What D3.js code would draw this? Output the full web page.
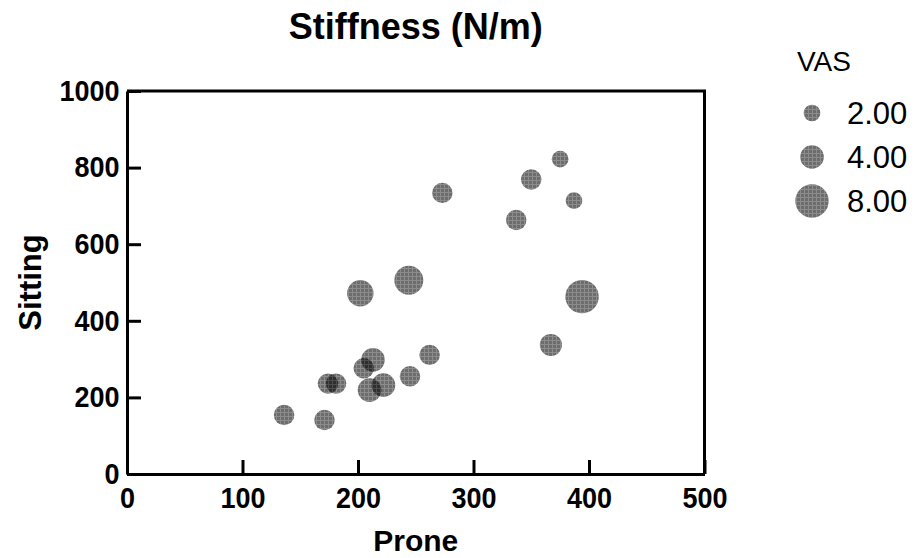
<!DOCTYPE html>
<html>
<head>
<meta charset="utf-8">
<script src="https://cdn.jsdelivr.net/npm/d3@7"></script>
<style>
  body { margin: 0; background: #fff; }
  text { font-family: "Liberation Sans", Arial, sans-serif; fill: #000; }
</style>
</head>
<body>
<div id="chart"></div>
<script>
// values
const prone   = [375, 350, 387, 273, 337, 202, 244, 394, 367, 262, 245, 213, 205, 210, 222, 174, 181, 136, 171];
const sitting = [822, 769, 714, 734, 663, 472, 506, 463, 337, 311, 255, 298, 276, 219, 232, 236, 236, 154, 141];
const vas     = [2,   3,   2,   3,   3,   5,   6,   8,   3.5, 3,   3,   4,   3,   4,   4,   3,   3,   3,   3];

const xTicks = [0, 100, 200, 300, 400, 500];
const yTicks = [0, 200, 400, 600, 800, 1000];
const legendValues = [2, 4, 8];

const width = 917, height = 558;
const margin = { top: 91, right: 212.5, bottom: 84, left: 127 };

const svg = d3.select("#chart").append("svg")
    .attr("width", width)
    .attr("height", height);

// grey crosshatch fill, semi transparent so overlaps get darker
const pat = svg.append("defs").append("pattern")
    .attr("id", "hatch")
    .attr("patternUnits", "userSpaceOnUse")
    .attr("width", 4)
    .attr("height", 4);
pat.append("rect").attr("width", 4).attr("height", 4).attr("fill", "#000").attr("fill-opacity", 0.45);
pat.append("rect").attr("x", 1).attr("y", 1).attr("width", 3).attr("height", 3).attr("fill", "#000").attr("fill-opacity", 0.22);

const x = d3.scaleLinear().domain([0, 500]).range([margin.left, width - margin.right]);
const y = d3.scaleLinear().domain([0, 1000]).range([height - margin.bottom, margin.top]);
const r = d3.scaleSqrt().domain([0, 8]).range([0, 16.7]);

// frame (top and right)
svg.append("path")
    .attr("d", `M${x(0)},${y(1000)}H${x(500)}V${y(0)}`)
    .attr("fill", "none")
    .attr("stroke", "#000")
    .attr("stroke-width", 3);

// x axis
const gx = svg.append("g")
    .attr("transform", `translate(0,${y(0)})`)
    .call(d3.axisBottom(x).tickValues(xTicks).tickFormat(d3.format("d"))
        .tickSize(-14).tickSizeOuter(0).tickPadding(13));

// y axis
const gy = svg.append("g")
    .attr("transform", `translate(${x(0)},0)`)
    .call(d3.axisLeft(y).tickValues(yTicks).tickFormat(d3.format("d"))
        .tickSize(-14).tickSizeOuter(0).tickPadding(8));

// tick labels are a little narrow and tall in the original
[gx, gy].forEach(g => {
    g.selectAll("path, line").attr("stroke", "#000").attr("stroke-width", 3);
    g.selectAll("text")
        .style("font-size", "29px")
        .style("font-weight", "bold")
        .attr("fill", "#000")
        .attr("transform", "scale(0.93,1)");
});
gx.selectAll(".tick text").attr("dy", "0.71em");
gy.select(".tick line").filter(d => d === 1000).remove();

// points
svg.append("g")
    .selectAll("circle")
    .data(prone.map((p, i) => ({ p, s: sitting[i], v: vas[i] })))
    .enter().append("circle")
    .attr("cx", d => x(d.p))
    .attr("cy", d => y(d.s))
    .attr("r", d => r(d.v))
    .attr("fill", "url(#hatch)");

// titles
svg.append("text")
    .attr("x", (x(0) + x(500)) / 2)
    .attr("y", 39)
    .attr("text-anchor", "middle")
    .style("font-size", "36px")
    .style("font-weight", "bold")
    .text("Stiffness (N/m)");

svg.append("text")
    .attr("x", (x(0) + x(500)) / 2)
    .attr("y", 551)
    .attr("text-anchor", "middle")
    .style("font-size", "30px")
    .style("font-weight", "bold")
    .text("Prone");

svg.append("text")
    .attr("transform", `translate(41,${(y(0) + y(1000)) / 2}) rotate(-90)`)
    .attr("text-anchor", "middle")
    .style("font-size", "31px")
    .style("font-weight", "bold")
    .text("Sitting");

// legend
const legend = svg.append("g");
legend.append("text")
    .attr("x", 797)
    .attr("y", 71)
    .style("font-size", "28px")
    .text("VAS");

const items = legend.selectAll(".item")
    .data(legendValues)
    .enter().append("g")
    .attr("class", "item")
    .attr("transform", (d, i) => `translate(812,${113 + i * 44})`);

items.append("circle")
    .attr("r", d => r(d))
    .attr("fill", "url(#hatch)");

items.append("text")
    .attr("x", 35)
    .attr("dy", "0.36em")
    .style("font-size", "31px")
    .text(d => d3.format(".2f")(d));
</script>
</body>
</html>
